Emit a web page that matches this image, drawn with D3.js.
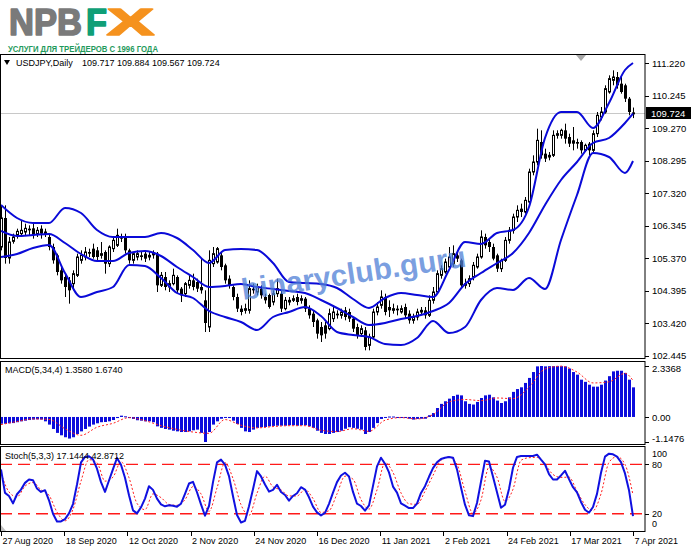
<!DOCTYPE html>
<html><head><meta charset="utf-8">
<script src="https://cdn.jsdelivr.net/npm/d3@7"></script>
<style>
body{margin:0;background:#fff;}
svg{display:block;}
text{font-family:"Liberation Sans",Arial,sans-serif;}
</style></head>
<body><svg id="c" width="691" height="549"></svg>
<script>
// ---------------- DATA ----------------
const dateLabels = ["27 Aug 2020","18 Sep 2020","12 Oct 2020","2 Nov 2020","24 Nov 2020","16 Dec 2020","11 Jan 2021","2 Feb 2021","24 Feb 2021","17 Mar 2021","7 Apr 2021"];
const priceTicks = [111.220,110.245,109.270,108.295,107.320,106.345,105.370,104.395,103.420,102.445];
const lastPrice = 109.724;

const open = [105.70,106.57,105.37,105.87,106.05,106.10,106.15,106.25,106.26,106.10,
106.25,106.10,106.00,105.70,105.45,105.00,104.80,104.70,104.60,104.85,
105.30,105.40,105.55,105.65,105.60,105.45,105.55,105.20,105.65,105.75,
106.00,106.00,105.60,105.30,105.40,105.45,105.50,105.40,105.55,105.50,
104.55,104.80,104.50,104.60,104.80,104.45,104.30,104.55,104.70,104.65,
104.50,104.10,103.30,105.20,105.25,105.45,105.15,104.75,104.50,104.20,
103.85,103.80,103.80,104.45,104.35,104.45,104.20,104.26,104.05,104.30,
104.30,103.85,104.05,104.10,104.20,104.10,104.15,103.85,103.70,103.50,
103.30,103.35,103.25,103.55,103.70,103.65,103.80,103.75,103.55,103.30,
103.10,103.20,102.75,103.00,103.75,103.95,104.20,103.90,103.80,103.85,
103.75,103.90,103.70,103.50,103.60,103.75,103.80,103.65,104.10,104.35,
104.85,104.95,105.10,105.20,105.45,105.30,104.55,104.60,104.80,105.10,
105.40,106.00,105.85,105.70,105.45,105.05,105.30,105.90,106.20,106.60,
106.85,106.75,107.05,107.95,108.25,108.85,108.50,108.40,108.45,109.05,
109.05,109.20,109.00,108.90,108.85,108.85,108.60,108.80,108.60,109.10,
109.60,109.75,110.35,110.70,110.80,110.60,110.55,110.15,109.717];
const high = [106.95,106.95,106.00,106.10,106.25,106.50,106.40,106.35,106.40,106.30,
106.35,106.25,106.10,105.80,105.50,105.10,104.90,104.80,105.00,105.50,
105.60,105.70,105.65,105.80,105.70,105.85,105.60,105.75,106.00,106.25,
106.10,106.10,105.65,105.55,105.60,105.55,105.60,105.55,105.60,105.55,
104.95,104.95,104.70,105.05,104.85,104.50,104.65,104.85,104.90,104.75,
105.35,104.40,105.60,105.70,105.70,105.55,105.20,104.85,104.55,104.30,
103.95,104.00,104.70,104.60,104.60,104.55,104.30,104.30,104.40,104.75,
104.40,104.20,104.20,104.25,104.30,104.25,104.20,103.95,103.80,103.55,
103.45,103.45,103.85,103.95,103.80,103.85,103.90,103.85,103.60,103.40,
103.35,103.30,103.10,103.85,104.05,104.40,104.30,104.10,104.00,103.95,
103.95,104.00,103.80,103.70,103.85,103.90,103.90,104.25,104.50,105.00,
105.15,105.35,105.70,105.75,105.55,105.35,104.75,104.85,105.25,105.50,
106.20,106.10,105.95,105.80,105.50,105.35,106.00,106.30,106.70,106.95,
107.00,107.20,108.05,108.45,109.25,109.20,108.65,108.55,109.20,109.20,
109.25,109.40,109.10,109.30,108.95,108.90,108.80,108.85,109.20,109.75,
109.90,110.55,110.85,111.00,110.95,110.80,110.60,110.20,109.884];
const low = [105.60,105.20,105.20,105.80,105.95,106.00,106.05,106.05,105.95,106.00,
105.95,106.00,105.60,105.20,104.85,104.60,104.20,104.00,104.40,104.80,
105.20,105.30,105.40,105.35,105.30,105.35,104.90,105.10,105.55,105.70,
105.85,105.50,105.20,105.20,105.30,105.30,105.25,105.30,105.35,104.35,
104.50,104.40,104.35,104.55,104.30,104.05,104.20,104.45,104.40,104.35,
104.30,103.15,103.15,105.10,105.20,105.00,104.60,104.45,104.10,103.75,
103.65,103.70,103.70,104.30,104.25,104.15,104.00,103.85,103.95,104.20,
103.75,103.80,103.95,104.05,103.95,104.00,103.75,103.55,103.30,102.95,
102.85,102.95,103.20,103.45,103.55,103.55,103.50,103.45,103.15,102.95,
103.00,102.60,102.60,102.95,103.65,103.85,103.65,103.60,103.70,103.65,
103.70,103.55,103.40,103.40,103.50,103.65,103.55,103.60,104.00,104.30,
104.75,104.90,105.05,105.10,105.25,104.45,104.45,104.50,104.70,105.05,
105.35,105.65,105.55,105.30,104.95,104.95,105.25,105.80,106.10,106.45,
106.60,106.70,106.95,107.85,108.15,108.35,108.25,108.30,108.40,108.95,
108.95,108.80,108.70,108.60,108.65,108.50,108.55,108.45,108.50,109.00,
109.50,109.70,110.30,110.55,110.45,110.30,110.05,109.65,109.567];
const close = [106.57,105.37,105.85,106.00,106.17,106.20,106.26,106.20,106.05,106.20,
106.10,106.15,105.70,105.30,104.95,104.70,104.50,104.40,104.90,105.40,
105.45,105.55,105.50,105.40,105.40,105.50,105.20,105.70,105.90,106.05,
105.95,105.60,105.30,105.50,105.50,105.40,105.35,105.45,105.45,104.55,
104.85,104.50,104.60,104.85,104.40,104.25,104.60,104.70,104.50,104.45,
104.40,103.42,105.30,105.50,105.65,105.10,104.70,104.55,104.20,103.85,
103.75,103.85,104.45,104.40,104.50,104.25,104.10,103.90,104.30,104.45,
103.85,104.10,104.10,104.15,104.05,104.15,103.85,103.65,103.45,103.10,
103.05,103.10,103.70,103.75,103.65,103.75,103.60,103.55,103.25,103.05,
103.25,102.70,103.00,103.75,103.90,104.20,103.75,103.80,103.85,103.80,
103.85,103.65,103.50,103.60,103.75,103.80,103.65,104.10,104.35,104.90,
105.05,105.25,105.40,105.50,105.35,104.55,104.60,104.75,105.15,105.40,
106.00,105.75,105.70,105.35,105.05,105.30,105.90,106.20,106.60,106.80,
106.75,107.10,107.95,108.25,108.90,108.45,108.35,108.45,109.05,109.10,
109.20,108.95,108.80,108.80,108.80,108.60,108.75,108.60,109.10,109.65,
109.75,110.45,110.75,110.80,110.55,110.35,110.15,109.75,109.724];

// Bollinger bands (20,2), read every 4th bar plus the last bar
const bandBars = [0,4,8,12,16,20,24,28,32,36,40,44,48,52,56,60,64,68,72,76,80,84,88,92,96,100,104,108,112,116,120,124,128,132,136,140,144,148,152,156,158];
const bbUpper = [106.96,106.57,106.42,106.42,106.87,106.72,106.21,106.00,106.00,106.00,106.12,105.97,105.61,105.22,105.61,105.64,105.61,105.22,104.65,104.62,104.59,104.47,104.14,103.87,104.17,104.32,104.26,104.20,105.01,105.85,105.79,106.12,106.21,106.90,108.97,109.75,109.75,109.27,110.02,111.01,111.22];
const bbMiddle = [106.18,106.03,106.06,106.09,105.82,105.49,105.28,105.28,105.52,105.58,105.43,105.10,104.80,104.50,104.53,104.59,104.50,104.44,104.38,104.32,104.11,103.87,103.60,103.36,103.42,103.54,103.63,103.78,104.02,104.59,104.92,105.22,105.52,106.12,106.96,107.71,108.25,108.82,108.97,109.42,109.70];
const bbLower = [105.40,105.49,105.67,105.76,104.92,104.20,104.35,104.50,105.16,105.13,104.77,104.32,104.17,103.78,103.60,103.45,103.21,103.60,103.75,103.90,103.63,103.15,103.06,103.00,102.79,102.76,102.97,103.48,103.12,103.30,104.11,104.47,104.41,104.77,104.44,105.91,107.26,108.52,108.40,107.92,108.28];

// MACD(5,34,4)
const macdTicks = [2.3368, 0, -1.1476];
const macdTickText = ["2.3368","0.00","-1.1476"];
const macdHist = [-0.31,-0.31,-0.29,-0.28,-0.24,-0.20,-0.17,-0.14,-0.12,-0.11,
-0.12,-0.20,-0.35,-0.55,-0.73,-0.84,-0.93,-0.99,-0.93,-0.78,
-0.66,-0.55,-0.44,-0.35,-0.29,-0.24,-0.23,-0.20,-0.14,-0.05,
0.06,0.03,-0.05,-0.09,-0.15,-0.17,-0.20,-0.20,-0.24,-0.43,
-0.50,-0.55,-0.58,-0.63,-0.66,-0.69,-0.69,-0.66,-0.61,-0.58,
-0.73,-1.1476,-0.69,-0.35,-0.20,-0.08,-0.02,-0.05,-0.17,-0.32,
-0.50,-0.66,-0.69,-0.58,-0.50,-0.47,-0.46,-0.43,-0.41,-0.40,
-0.40,-0.40,-0.38,-0.38,-0.40,-0.38,-0.38,-0.43,-0.50,-0.63,
-0.73,-0.78,-0.78,-0.73,-0.69,-0.63,-0.54,-0.47,-0.50,-0.54,
-0.58,-0.78,-0.69,-0.50,-0.28,-0.09,-0.02,0.02,0.02,-0.01,
-0.01,-0.02,-0.08,-0.12,-0.09,-0.08,-0.08,0.08,0.18,0.41,
0.60,0.72,0.84,0.96,1.02,0.99,0.72,0.60,0.57,0.69,
0.87,0.99,1.02,0.90,0.75,0.64,0.72,0.90,1.15,1.28,
1.36,1.56,1.79,2.06,2.32,2.3368,2.32,2.33,2.33,2.33,
2.33,2.32,2.22,2.06,1.94,1.71,1.61,1.48,1.39,1.39,
1.48,1.67,1.87,2.09,2.12,2.12,2.02,1.71,1.358];
const macdSignal = [-0.35,-0.21,-0.09,-0.11,-0.54,-0.84,-0.47,-0.29,-0.03,-0.17,-0.40,-0.57,-0.69,-0.75,-0.12,-0.38,-0.50,-0.44,-0.40,-0.40,-0.61,-0.67,-0.54,-0.66,-0.15,-0.03,-0.09,0.11,0.69,0.80,0.75,0.87,0.84,1.36,2.20,2.33,2.06,1.56,1.61,2.00,1.674];

// Stochastic(5,3,3)
const stochLevels = [80, 20];
const stochTicks = [100, 80, 20, 0];
const stochMain = [73.9,45.3,41.6,32.6,43.7,49.4,57.5,61.6,60.8,50.6,
46.5,48.6,36.3,20.0,10.6,10.6,13.5,20.4,31.8,55.5,
82.4,89.0,89.8,86.1,74.7,58.4,46.5,60.4,74.3,87.7,
79.6,63.7,42.4,24.1,20.4,27.8,38.4,53.5,49.0,38.4,
31.4,29.0,30.2,29.8,28.6,32.2,44.1,56.7,58.8,46.1,
31.4,17.6,29.4,58.4,82.4,85.7,79.6,65.7,41.2,18.4,
9.4,11.4,29.0,49.8,71.8,65.3,55.5,46.9,49.0,55.1,
46.5,42.8,35.9,41.6,44.9,52.2,49.4,40.0,28.6,21.6,
18.0,21.0,32.0,45.7,58.4,66.5,69.8,65.3,46.5,32.2,
29.4,23.7,30.2,53.9,77.5,88.1,80.8,70.2,53.0,45.7,
32.6,29.8,26.9,26.9,32.2,45.3,53.5,64.9,75.5,82.4,
86.5,88.1,89.0,88.1,73.9,51.8,31.0,18.0,17.1,33.1,
58.8,84.5,83.6,64.9,46.1,27.3,31.0,50.2,75.9,89.0,
90.2,90.2,90.2,90.2,91.8,85.7,80.0,68.1,61.6,61.6,
66.5,72.2,62.0,52.2,46.1,34.3,24.9,21.2,28.2,44.1,
69.8,89.4,93.0,92.2,89.4,82.8,69.0,48.6,17.1444];
// signal line read every 2nd bar (bars 0,2,...,158)
const stochSignal = [69.4,46.5,40.4,53.5,57.9,49.0,42.4,22.0,11.4,25.3,
59.6,85.7,82.0,59.6,64.5,83.2,63.7,32.6,24.9,44.1,
39.6,31.4,30.2,37.1,53.0,44.1,22.9,51.4,82.0,62.8,
31.0,18.0,44.9,65.7,52.6,49.0,41.6,41.6,49.4,38.4,
21.6,23.7,44.1,65.7,62.0,37.1,25.7,49.0,82.0,70.2,
45.3,32.2,31.4,47.3,66.5,84.9,89.0,80.0,47.3,20.4,
36.7,76.7,64.5,35.1,49.8,84.9,88.1,88.5,80.0,67.7,
64.1,64.5,47.3,31.0,23.7,44.1,82.4,89.4,80.0,42.8712];

// ---------------- LAYOUT ----------------
const svg = d3.select("#c");
const RIGHT = 645;
const P = {
  main:  {top: 54.5, bottom: 358.5},
  macd:  {top: 361.5, bottom: 444.5},
  stoch: {top: 446.5, bottom: 531.5}
};
const N = close.length;
const x = d3.scaleLinear().domain([0, N - 1]).range([1, 633]);
const yMain = d3.scaleLinear().domain([102.445, 111.22]).range([355.5, 63]);
const yMacd = d3.scaleLinear().domain([-1.1476, 2.3368]).range([442, 366]);
const yStoch = d3.scaleLinear().domain([0, 100]).range([530.2, 447.9]);

svg.append("rect").attr("width", 691).attr("height", 549).attr("fill", "#fff");

Object.entries(P).forEach(([k, p]) => {
  svg.append("clipPath").attr("id", "clip-" + k).append("rect")
    .attr("x", 1).attr("y", p.top + 0.5).attr("width", RIGHT - 1).attr("height", p.bottom - p.top - 1);
});

// ---------------- LOGO ----------------
const logo = svg.append("g");
const big = (t, x0, len, col) => logo.append("text").attr("x", x0).attr("y", 35).attr("font-size", 36)
  .attr("font-weight", "bold").attr("fill", col).attr("stroke", col).attr("stroke-width", 1.6)
  .attr("stroke-linejoin", "round").attr("textLength", len).attr("lengthAdjust", "spacingAndGlyphs").text(t);
big("NPB", 9, 73, "#7a7a7a");
big("F", 86, 21, "#0f9f77");
big("X", 107, 47, "#f5921e");
logo.append("text").attr("x", 8).attr("y", 51.5).attr("font-size", 9.5).attr("font-weight", "bold")
  .attr("fill", "#1f9a5c").attr("textLength", 150).attr("lengthAdjust", "spacingAndGlyphs")
  .text("УСЛУГИ ДЛЯ ТРЕЙДЕРОВ С 1996 ГОДА");

// ---------------- MAIN PANEL ----------------
const gMain = svg.append("g").attr("clip-path", "url(#clip-main)");
gMain.append("line").attr("x1", 0).attr("x2", RIGHT).attr("y1", Math.round(yMain(lastPrice)) + 0.5)
  .attr("y2", Math.round(yMain(lastPrice)) + 0.5).attr("stroke", "#c8c8c8").attr("stroke-width", 1);

const idx = d3.range(N);
gMain.selectAll("line.wick").data(idx).join("line").attr("class", "wick")
  .attr("x1", i => x(i) + 0.5).attr("x2", i => x(i) + 0.5)
  .attr("y1", i => yMain(high[i])).attr("y2", i => yMain(low[i]))
  .attr("stroke", "#000").attr("stroke-width", 1);
gMain.selectAll("rect.body").data(idx).join("rect").attr("class", "body")
  .attr("x", i => close[i] >= open[i] ? x(i) - 0.5 : x(i) - 1)
  .attr("width", i => close[i] >= open[i] ? 2 : 3)
  .attr("y", i => yMain(Math.max(open[i], close[i])))
  .attr("height", i => Math.max(1, Math.abs(yMain(open[i]) - yMain(close[i]))))
  .attr("fill", i => close[i] >= open[i] ? "#fff" : "#000")
  .attr("stroke", i => close[i] >= open[i] ? "#000" : "none")
  .attr("stroke-width", 1);

const bandLine = vals => d3.line().x((d, j) => x(bandBars[j])).y(d => yMain(d)).curve(d3.curveMonotoneX)(vals);
[bbUpper, bbMiddle, bbLower].forEach(vals => {
  gMain.append("path").attr("d", bandLine(vals)).attr("fill", "none")
    .attr("stroke", "#0a0ad8").attr("stroke-width", 2).attr("stroke-linejoin", "round");
});

// watermark
svg.append("text").attr("transform", "translate(243,300) rotate(-8.5)")
  .attr("font-size", 30).attr("font-weight", "bold").attr("fill", "#4f80d6").attr("fill-opacity", 0.75)
  .text("binaryclub.guru");

// chart-shift marker
svg.append("path").attr("d", "M576,55 L586,55 L581,61 Z").attr("fill", "#a8a8a8");

// title
svg.append("path").attr("d", "M4,60 L10,60 L7,65 Z").attr("fill", "#000");
svg.append("text").attr("x", 16).attr("y", 66).attr("font-size", 9).attr("fill", "#000").text("USDJPY,Daily");
svg.append("text").attr("x", 82).attr("y", 66).attr("font-size", 9).attr("fill", "#000")
  .text([109.717, 109.884, 109.567, lastPrice].map(v => v.toFixed(3)).join(" "));

// ---------------- MACD PANEL ----------------
const gMacd = svg.append("g").attr("clip-path", "url(#clip-macd)");
gMacd.selectAll("rect.h").data(idx).join("rect").attr("class", "h")
  .attr("x", i => x(i) - 1).attr("width", 3)
  .attr("y", i => Math.min(yMacd(0), yMacd(macdHist[i])))
  .attr("height", i => Math.max(1, Math.abs(yMacd(macdHist[i]) - yMacd(0))))
  .attr("fill", "#0c0cdc");
gMacd.append("path")
  .attr("d", d3.line().x((d, j) => x(bandBars[j])).y(d => yMacd(d)).curve(d3.curveMonotoneX)(macdSignal))
  .attr("fill", "none").attr("stroke", "#ff2020").attr("stroke-width", 1).attr("stroke-dasharray", "2,2");
svg.append("text").attr("x", 5).attr("y", 372.5).attr("font-size", 9).attr("fill", "#000")
  .text("MACD(5,34,4) 1.3580 1.6740");

// ---------------- STOCH PANEL ----------------
const gSt = svg.append("g").attr("clip-path", "url(#clip-stoch)");
stochLevels.forEach(l => {
  gSt.append("line").attr("x1", 0).attr("x2", RIGHT).attr("y1", yStoch(l)).attr("y2", yStoch(l))
    .attr("stroke", "#ff1a1a").attr("stroke-width", 1.3).attr("stroke-dasharray", "12,6");
});
gSt.append("path")
  .attr("d", d3.line().x((d, j) => x(j * 2)).y(d => yStoch(d)).curve(d3.curveMonotoneX)(stochSignal))
  .attr("fill", "none").attr("stroke", "#ff2020").attr("stroke-width", 1).attr("stroke-dasharray", "2,2");
gSt.append("path")
  .attr("d", d3.line().x((d, i) => x(i)).y(d => yStoch(d))(stochMain))
  .attr("fill", "none").attr("stroke", "#1010e0").attr("stroke-width", 2).attr("stroke-linejoin", "round");
svg.append("text").attr("x", 5).attr("y", 458.5).attr("font-size", 9).attr("fill", "#000")
  .text("Stoch(5,3,3) 17.1444 42.8712");
svg.append("path").attr("d", "M1,525 L1,531 L6,531 Z").attr("fill", "#c0c0c0");

// ---------------- FRAMES ----------------
Object.values(P).forEach(p => {
  svg.append("rect").attr("x", 0.5).attr("y", p.top).attr("width", RIGHT - 0.5).attr("height", p.bottom - p.top)
    .attr("fill", "none").attr("stroke", "#000").attr("stroke-width", 1);
});

// ---------------- AXES ----------------
function styleAxis(g, fs) {
  g.select(".domain").remove();
  g.selectAll("line").attr("stroke", "#000").attr("shape-rendering", "crispEdges");
  g.selectAll("text").attr("font-size", fs || 9.5).attr("fill", "#000")
    .attr("font-family", "'Liberation Sans',Arial,sans-serif");
}
svg.append("g").attr("transform", `translate(${RIGHT},0)`)
  .call(d3.axisRight(yMain).tickValues(priceTicks).tickSize(4).tickPadding(3).tickFormat(d => d.toFixed(3)))
  .call(styleAxis);

const ly = Math.round(yMain(lastPrice));
svg.append("rect").attr("x", RIGHT + 1).attr("y", ly - 6).attr("width", 46).attr("height", 12).attr("fill", "#000");
svg.append("text").attr("x", RIGHT + 6).attr("y", ly + 3.5).attr("font-size", 9.5).attr("fill", "#fff").text(lastPrice.toFixed(3));

const gMa = svg.append("g").attr("transform", `translate(${RIGHT},0)`)
  .call(d3.axisRight(yMacd).tickValues(macdTicks).tickSize(4).tickPadding(3).tickFormat((d, i) => macdTickText[i]))
  .call(styleAxis);
gMa.selectAll(".tick text").attr("dy", (d, i) => i === 0 ? "0.62em" : i === 2 ? "-0.1em" : "0.32em");

const gSa = svg.append("g").attr("transform", `translate(${RIGHT},0)`)
  .call(d3.axisRight(yStoch).tickValues(stochTicks).tickSize(4).tickPadding(3))
  .call(g => styleAxis(g, 9));
gSa.selectAll(".tick text").attr("dy", d => d === 100 ? "0.98em" : d === 0 ? "-0.45em" : "0.32em");
gSa.selectAll(".tick line").attr("stroke-width", d => (d === 100 || d === 0) ? 0 : 1);

const timeTicks = dateLabels.map((d, k) => k * (N - 1) / (dateLabels.length - 1));
const gT = svg.append("g").attr("transform", `translate(0,${P.stoch.bottom})`)
  .call(d3.axisBottom(x).tickValues(timeTicks).tickSize(4).tickPadding(2).tickFormat((d, i) => dateLabels[i]))
  .call(g => styleAxis(g, 9));
gT.selectAll(".tick text").attr("text-anchor", "start").attr("dx", 1);
</script>
</body></html>
